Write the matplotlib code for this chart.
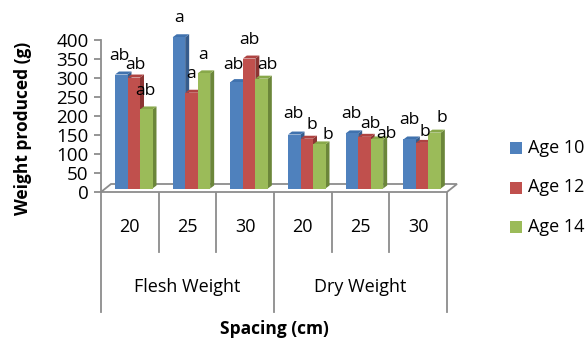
import matplotlib
matplotlib.use("Agg")
import matplotlib.pyplot as plt
from matplotlib.patches import Polygon, Rectangle
import matplotlib.transforms as mtrans

plt.rcParams['font.family'] = ['Open Sans', 'DejaVu Sans']

# ---- data -------------------------------------------------------------
groups = ["Flesh Weight", "Dry Weight"]
spacing = ["20", "25", "30"]
series = ["Age 10", "Age 12", "Age 14"]
age10 = [300, 398, 280, 142, 145, 129]
age12 = [292, 252, 342, 131, 136, 120]
age14 = [208, 303, 289, 116, 129, 147]
letters10 = ["ab", "a", "ab", "ab", "ab", "ab"]
letters12 = ["ab", "a", "ab", "b", "ab", "b"]
letters14 = ["ab", "a", "ab", "b", "ab", "b"]
yticks = [0, 50, 100, 150, 200, 250, 300, 350, 400]

# ---- styling ----------------------------------------------------------
front_cols = ["#4F81BD", "#C0504D", "#9BBB59"]
top_cols = ["#4072AE", "#AE4341", "#88A84A"]
side_cols = ["#365C8C", "#8C3533", "#6B863A"]
axis_col = "#8C8C8C"
fs = 13
fs_tick = 13.5
fs_letter = 12.5

# per-label placement (pixels): horizontal shift, gap above bar top
label_dx = [[-2, 0, -3.6, -1, -0.3, -0.3],
            [1.7, -0.8, 0.2, 5.5, 6.2, 2.9],
            [-1.3, -0.7, 5.7, 8.4, 9.7, 7.1]]
label_gap = [[15, 15, 13.4, 16.7, 15.7, 15],
             [9, 15, 14.3, 10, 9, 6.7],
             [14, 14.7, 10, 5.7, 1.7, 10.7]]

W, H = 588, 339
fig = plt.figure(figsize=(W / 100, H / 100), dpi=100)
ax = fig.add_axes([101 / W, (H - 192) / H, 346 / W, 152 / H])
ax.set_xlim(0, 6)
ax.set_ylim(0, 400)
ax.patch.set_alpha(0)

px_x = 6 / 346      # data units per pixel, horizontal
px_y = 400 / 152    # data units per pixel, vertical


def fy(py):
    return 1 - py / H


# floor of the 3D box
fdx, fdy = 10 * px_x, 8 * px_y
floor = Polygon([(0, 0), (6, 0), (6 + fdx, fdy), (fdx, fdy)], closed=True,
                facecolor="none", edgecolor=axis_col, lw=1.3, zorder=1,
                clip_on=False)
ax.add_patch(floor)

# 3D columns
all_vals = [age10, age12, age14]
all_letters = [letters10, letters12, letters14]
bw = 12.5 * px_x
ddx, ddy = 4 * px_x, 3 * px_y
base = 3.5 * px_y
for i in range(len(age10)):
    for j, vals in enumerate(all_vals):
        v = vals[i]
        x0 = i + (10 + 12.5 * j + 4) * px_x
        t = base + v
        side = Polygon([(x0 + bw, base), (x0 + bw + ddx, base + ddy),
                        (x0 + bw + ddx, t + ddy), (x0 + bw, t)], closed=True,
                       facecolor=side_cols[j], edgecolor="none", zorder=3,
                       clip_on=False)
        top = Polygon([(x0, t), (x0 + bw, t), (x0 + bw + ddx, t + ddy),
                       (x0 + ddx, t + ddy)], closed=True,
                      facecolor=top_cols[j], edgecolor="none", zorder=3,
                      clip_on=False)
        front = Rectangle((x0, base), bw, v, facecolor=front_cols[j],
                          edgecolor="none", zorder=3, clip_on=False)
        for p in (side, top, front):
            ax.add_patch(p)
        ax.annotate(all_letters[j][i], xy=(x0 + bw / 2, t),
                    xytext=(label_dx[j][i] * 0.72, label_gap[j][i] * 0.72),
                    textcoords="offset points", ha="center", va="baseline",
                    fontsize=fs_letter, color="black", zorder=5,
                    annotation_clip=False)

# value axis
ax.set_yticks(yticks)
ax.set_yticklabels([str(v) for v in yticks])
ax.set_xticks([])
for s in ("top", "right", "bottom"):
    ax.spines[s].set_visible(False)
ax.spines["left"].set_color(axis_col)
ax.spines["left"].set_linewidth(1.3)
ax.tick_params(axis="y", direction="out", length=5, width=1.3,
               color=axis_col, labelsize=fs_tick, pad=4)

# category axis: nested labels and separators
blend = mtrans.blended_transform_factory(ax.transData, fig.transFigure)
for k in range(7):
    long_line = k in (0, 3, 6)
    y_end = 311.7 if long_line else 251.7
    ax.plot([k, k], [fy(192.7), fy(y_end)], color=axis_col, lw=1.3,
            transform=blend, clip_on=False, zorder=1)
for i in range(6):
    ax.text(i + 0.5, fy(226.7), spacing[i % 3], transform=blend,
            ha="center", va="center", fontsize=fs)
for g, name in enumerate(groups):
    ax.text(3 * g + 1.5, fy(287), name, transform=blend,
            ha="center", va="center", fontsize=fs)

# axis titles
fig.text(23 / W, fy(128), "Weight produced (g)", rotation=90,
         ha="center", va="center", fontsize=12.5, fontweight="bold")
fig.text(274 / W, fy(329), "Spacing (cm)", ha="center", va="center",
         fontsize=12.5, fontweight="bold")

# legend
for j, name in enumerate(series):
    cy = [148, 187.5, 227][j]
    fig.patches.append(Rectangle((510 / W, fy(cy + 6)), 12 / W, 12 / H,
                                 transform=fig.transFigure,
                                 facecolor=front_cols[j], edgecolor="none"))
    fig.text(528 / W, fy(cy), name, ha="left", va="center", fontsize=fs)

fig.savefig("out.png", dpi=100)
